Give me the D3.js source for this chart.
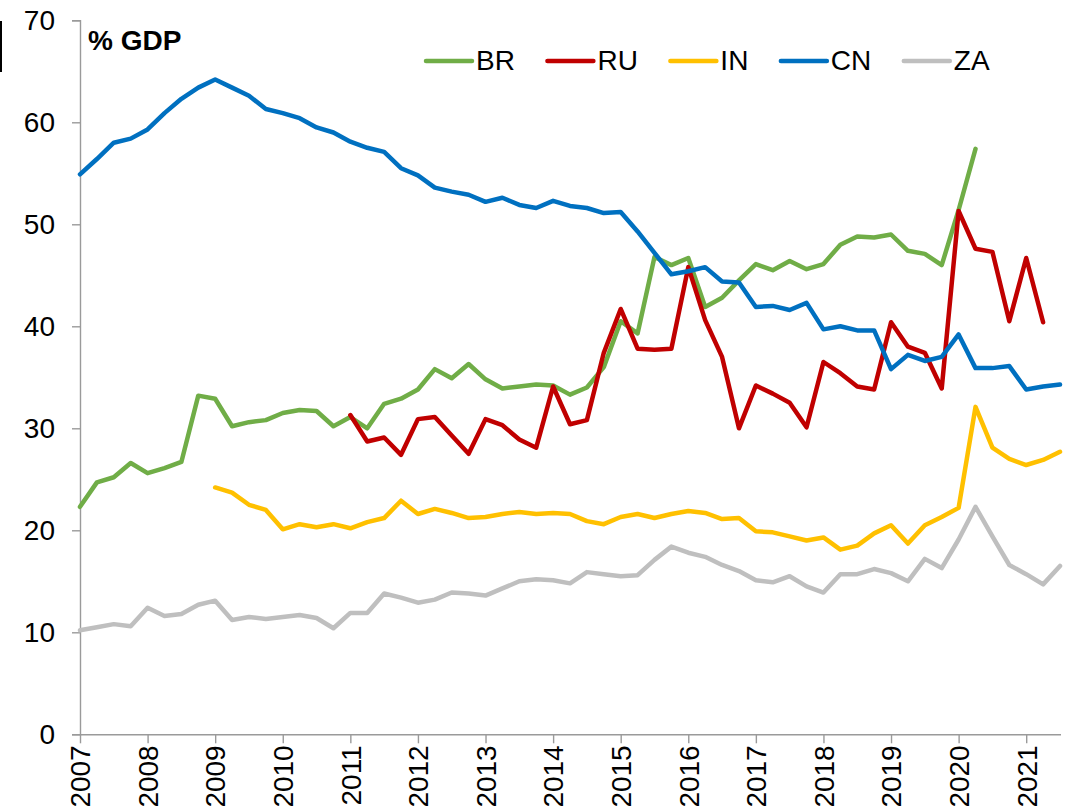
<!DOCTYPE html>
<html>
<head>
<meta charset="utf-8">
<script src="https://cdn.jsdelivr.net/npm/d3@7"></script>
<style>
  html, body { margin: 0; padding: 0; background: #fff; }
  svg { display: block; font-family: "Liberation Sans", Arial, sans-serif; }
</style>
</head>
<body>
<svg id="chart" width="1068" height="809"></svg>
<script>
// ---- data (quarterly, 2007Q1 .. 2021Q3) ----
const years = ["2007","2008","2009","2010","2011","2012","2013","2014","2015","2016","2017","2018","2019","2020","2021"];
const seriesNames = ["BR", "RU", "IN", "CN", "ZA"];
const seriesColors = ["#70AD47", "#C00000", "#FFC000", "#0070C0", "#BFBFBF"];
const yTicks = [0, 10, 20, 30, 40, 50, 60, 70];
const unitLabel = "% GDP";

const BR = [22.3,24.7,25.2,26.6,25.6,26.1,26.7,33.2,32.9,30.2,
            30.6,30.8,31.5,31.8,31.7,30.2,31.1,30.0,32.4,32.9,
            33.8,35.8,34.9,36.3,34.8,33.9,34.1,34.3,34.2,33.3,
            34.0,36.0,40.5,39.3,46.8,46.0,46.7,41.9,42.8,44.5,
            46.1,45.5,46.4,45.6,46.1,48.0,48.8,48.7,49.0,47.4,
            47.1,46.0,51.4,57.4,null,null,null,null,null];
const RU = [null,null,null,null,null,null,null,null,null,null,
            null,null,null,null,null,null,31.3,28.7,29.1,27.4,
            30.9,31.1,29.3,27.5,30.9,30.3,28.9,28.1,34.1,30.4,
            30.8,37.4,41.7,37.8,37.7,37.8,45.8,40.6,37.0,30.0,
            34.2,33.4,32.5,30.1,36.5,35.4,34.1,33.8,40.4,38.0,
            37.4,33.9,51.3,47.6,47.3,40.5,46.7,40.4,null];
const IN = [null,null,null,null,null,null,null,null,24.2,23.7,
            22.5,22.0,20.1,20.6,20.3,20.6,20.2,20.8,21.2,22.9,
            21.6,22.1,21.7,21.2,21.3,21.6,21.8,21.6,21.7,21.6,
            20.9,20.6,21.3,21.6,21.2,21.6,21.9,21.7,21.1,21.2,
            19.9,19.8,19.4,19.0,19.3,18.1,18.5,19.7,20.5,18.7,
            20.5,21.3,22.2,32.1,28.1,27.0,26.4,26.9,27.7];
const CN = [54.9,56.4,58.0,58.4,59.3,60.9,62.3,63.4,64.2,63.4,
            62.6,61.3,60.9,60.4,59.5,59.0,58.1,57.5,57.1,55.5,
            54.8,53.6,53.2,52.9,52.2,52.6,51.9,51.6,52.3,51.8,
            51.6,51.1,51.2,49.3,47.2,45.1,45.4,45.8,44.4,44.3,
            41.9,42.0,41.6,42.3,39.7,40.0,39.6,39.6,35.8,37.2,
            36.6,37.0,39.2,35.9,35.9,36.1,33.8,34.1,34.3];
const ZA = [10.2,10.5,10.8,10.6,12.4,11.6,11.8,12.7,13.1,11.2,
            11.5,11.3,11.5,11.7,11.4,10.4,11.9,11.9,13.8,13.4,
            12.9,13.2,13.9,13.8,13.6,14.3,15.0,15.2,15.1,14.8,
            15.9,15.7,15.5,15.6,17.1,18.4,17.8,17.4,16.6,16.0,
            15.1,14.9,15.5,14.5,13.9,15.7,15.7,16.2,15.8,15.0,
            17.2,16.3,19.1,22.3,19.4,16.6,15.7,14.7,16.5];
const seriesValues = [BR, RU, IN, CN, ZA];

// ---- layout ----
const svg = d3.select("#chart");
const plotLeft = 80, plotRight = 1060, plotTop = 20.3, plotBottom = 734.3;
const nPts = CN.length;
const x = d3.scaleLinear().domain([0, nPts - 1]).range([plotLeft, plotRight]);
const y = d3.scaleLinear().domain([0, 70]).range([plotBottom, plotTop]);
const FONT = 28;
const axisColor = "#9a9a9a";

// stray mark at the very left edge of the original image
svg.append("rect").attr("x", 0).attr("y", 21).attr("width", 2).attr("height", 51).attr("fill", "#000");

// y axis
const yAxis = d3.axisLeft(y).tickValues(yTicks).tickSize(8).tickPadding(17).tickFormat(d3.format("d"));
const gy = svg.append("g").attr("transform", `translate(${plotLeft},0)`).call(yAxis);
gy.select(".domain").attr("stroke", axisColor).attr("stroke-width", 1.4);
gy.selectAll(".tick line").attr("stroke", axisColor).attr("stroke-width", 1.4);
gy.selectAll(".tick text").attr("font-size", FONT).attr("fill", "#000")
  .attr("font-family", "'Liberation Sans', Arial, sans-serif");

// x axis
const xTickIdx = years.map((_, k) => k * 4);
const xAxis = d3.axisBottom(x).tickValues(xTickIdx).tickSize(9).tickFormat((d, k) => years[k]);
const gx = svg.append("g").attr("transform", `translate(0,${plotBottom})`).call(xAxis);
gx.select(".domain").attr("stroke", axisColor).attr("stroke-width", 1.4)
  .attr("d", `M${plotLeft},0.5H${plotRight + 1}`);
gx.selectAll(".tick line").attr("stroke", axisColor).attr("stroke-width", 1.4);
gx.selectAll(".tick text")
  .attr("font-size", FONT).attr("fill", "#000")
  .attr("font-family", "'Liberation Sans', Arial, sans-serif")
  .attr("text-anchor", "end")
  .attr("transform", "translate(0,11) rotate(-90)")
  .attr("x", 0).attr("y", 0).attr("dy", "0.35em");

// unit label
svg.append("text").attr("x", 88).attr("y", 50).attr("font-size", FONT).attr("font-weight", "bold")
  .attr("fill", "#000").text(unitLabel);

// lines
const line = d3.line()
  .defined(d => d != null)
  .x((d, i) => x(i))
  .y(d => y(d));

seriesNames.forEach((name, s) => {
  svg.append("path")
    .datum(seriesValues[s])
    .attr("fill", "none")
    .attr("stroke", seriesColors[s])
    .attr("stroke-width", 4.5)
    .attr("stroke-linejoin", "round")
    .attr("stroke-linecap", "round")
    .attr("d", line);
});

// legend
let lx = 426;
const ly = 61;
seriesNames.forEach((name, s) => {
  const g = svg.append("g");
  g.append("line").attr("x1", lx).attr("x2", lx + 46).attr("y1", ly).attr("y2", ly)
    .attr("stroke", seriesColors[s]).attr("stroke-width", 4.5).attr("stroke-linecap", "round");
  const t = g.append("text").attr("x", lx + 50).attr("y", ly + 9).attr("font-size", FONT)
    .attr("fill", "#000").text(name);
  lx += 50 + t.node().getComputedTextLength() + 32.5;
});
</script>
</body>
</html>
